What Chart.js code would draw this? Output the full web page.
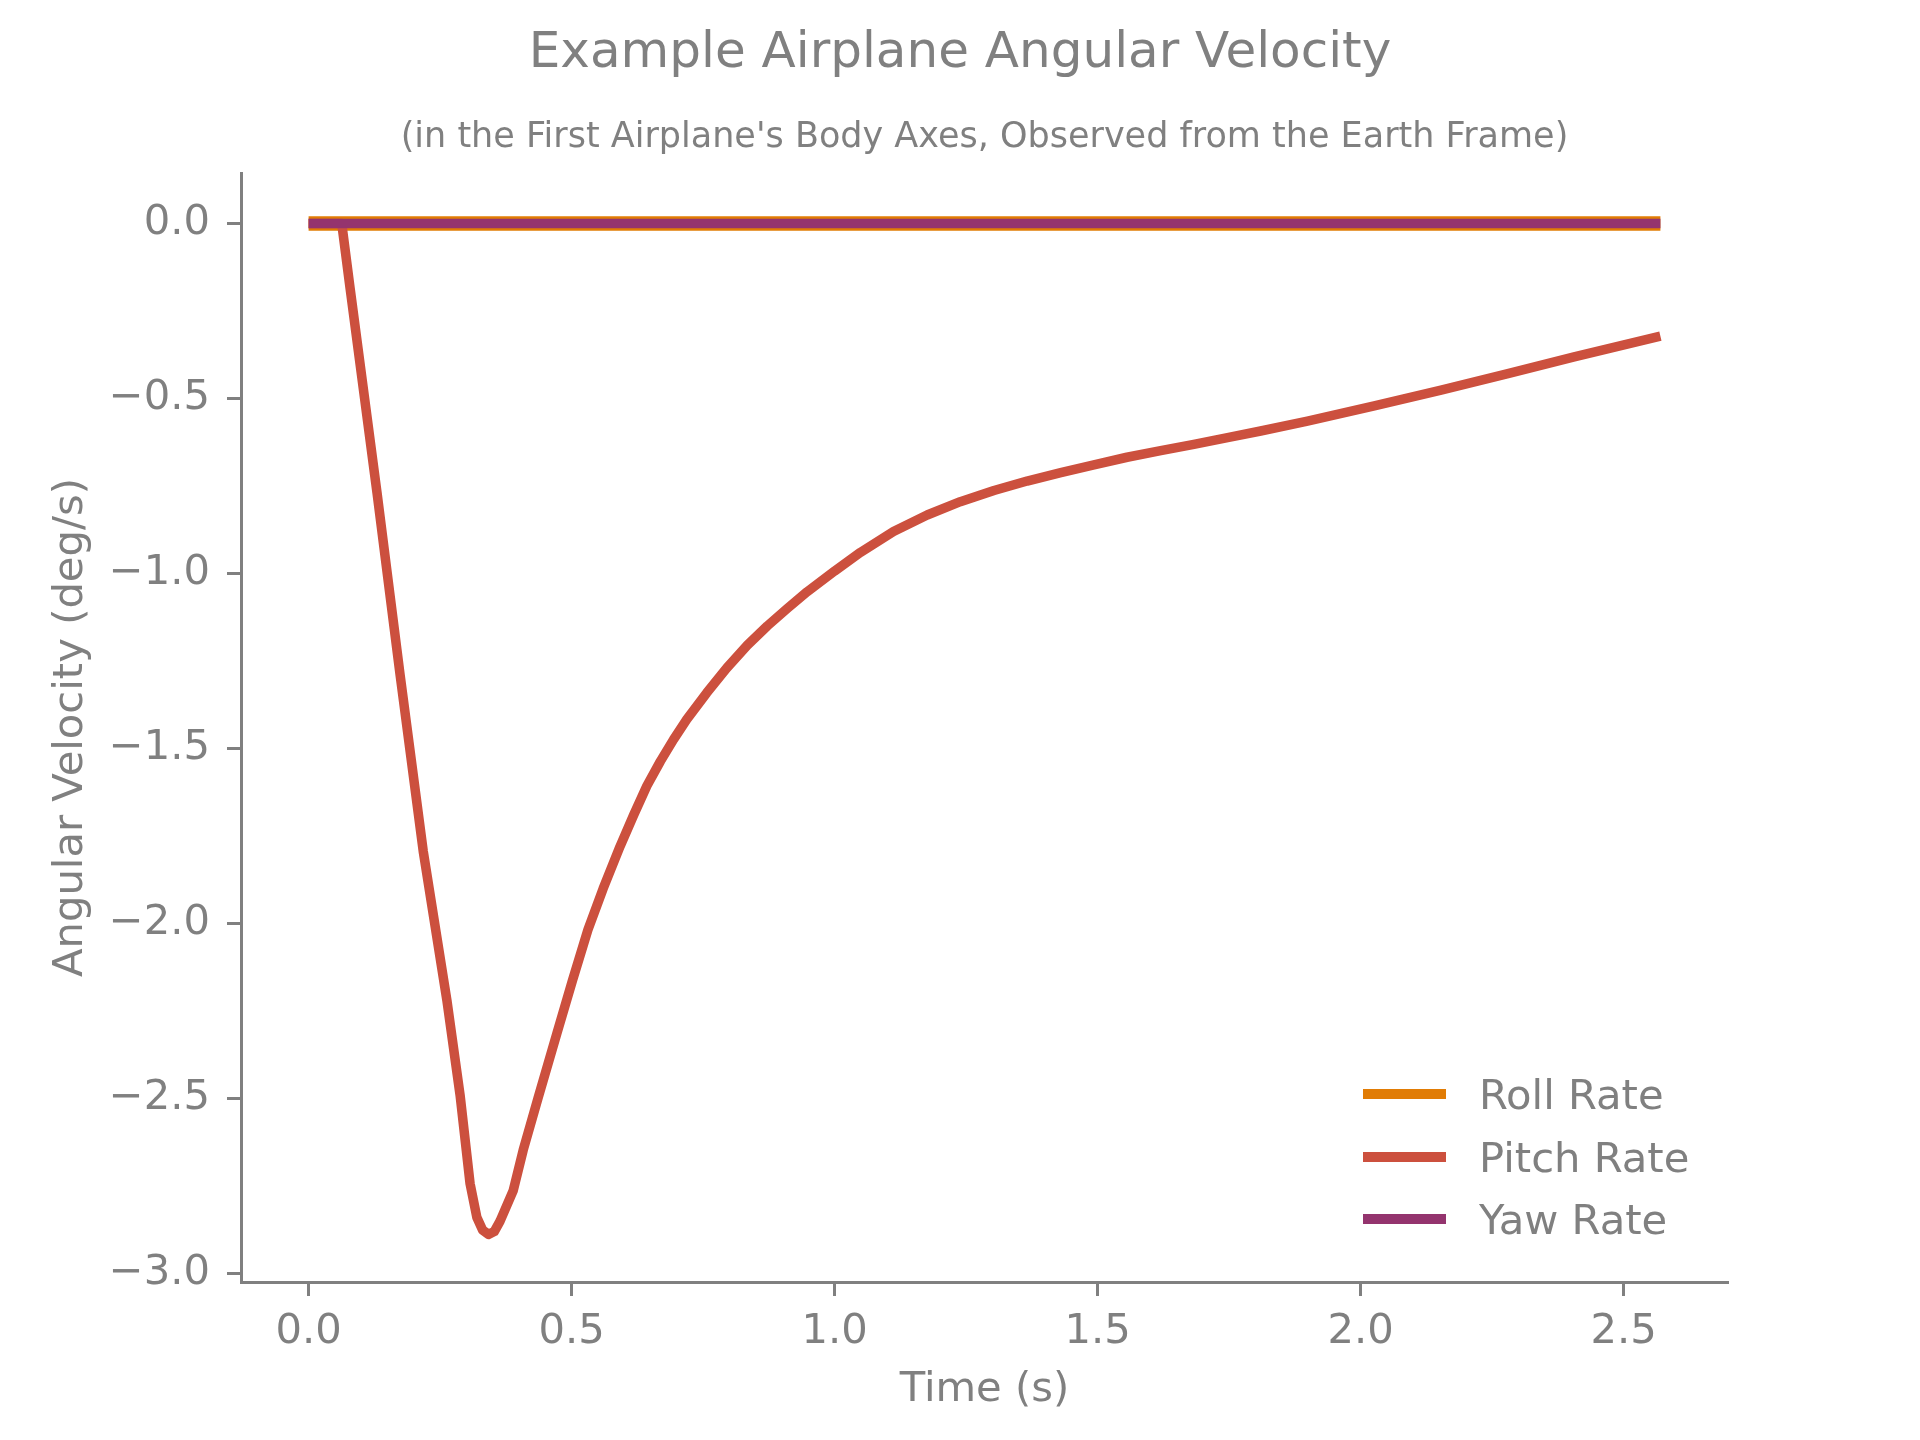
<!DOCTYPE html>
<html lang="en">
<head>
    <meta charset="UTF-8">
    <title>Example Airplane Angular Velocity</title>
    <script src="https://cdn.jsdelivr.net/npm/chart.js"></script>
    <style>
        body {
            margin: 0;
            background: #ffffff;
        }
        .chart-container {
            width: 1920px;
            height: 1440px;
        }
    </style>
</head>
<body>
    <div class="chart-container">
        <canvas id="rateChart" width="1920" height="1440"></canvas>
    </div>

    <script>
        // Time samples (s) and the three body rates (deg/s)
        const timeS = [0.000, 0.020, 0.040, 0.063, 0.079, 0.130, 0.174, 0.218, 0.263, 0.288,
                       0.307, 0.320, 0.331, 0.342, 0.353, 0.364, 0.389, 0.408, 0.436, 0.472,
                       0.502, 0.531, 0.560, 0.592, 0.618, 0.643, 0.669, 0.694, 0.719, 0.757,
                       0.795, 0.834, 0.872, 0.910, 0.948, 1.000, 1.049, 1.112, 1.176, 1.239,
                       1.303, 1.366, 1.430, 1.493, 1.556, 1.620, 1.683, 1.747, 1.810, 1.899,
                       2.026, 2.153, 2.280, 2.406, 2.570];
        const rollRate = [0, 0, 0, 0, 0, 0, 0, 0, 0, 0,
                          0, 0, 0, 0, 0, 0, 0, 0, 0, 0,
                          0, 0, 0, 0, 0, 0, 0, 0, 0, 0,
                          0, 0, 0, 0, 0, 0, 0, 0, 0, 0,
                          0, 0, 0, 0, 0, 0, 0, 0, 0, 0,
                          0, 0, 0, 0, 0];
        const pitchRate = [0, 0, 0, 0, -0.186, -0.768, -1.290, -1.794, -2.220, -2.490,
                           -2.743, -2.840, -2.876, -2.888, -2.880, -2.850, -2.763, -2.647, -2.500, -2.314,
                           -2.161, -2.018, -1.900, -1.780, -1.690, -1.607, -1.536, -1.474, -1.417, -1.341,
                           -1.270, -1.205, -1.150, -1.100, -1.052, -0.993, -0.940, -0.880, -0.833, -0.795,
                           -0.763, -0.736, -0.712, -0.690, -0.668, -0.649, -0.631, -0.612, -0.593, -0.565,
                           -0.521, -0.476, -0.429, -0.381, -0.322];
        const yawRate = [0, 0, 0, 0, 0, 0, 0, 0, 0, 0,
                         0, 0, 0, 0, 0, 0, 0, 0, 0, 0,
                         0, 0, 0, 0, 0, 0, 0, 0, 0, 0,
                         0, 0, 0, 0, 0, 0, 0, 0, 0, 0,
                         0, 0, 0, 0, 0, 0, 0, 0, 0, 0,
                         0, 0, 0, 0, 0];

        const seriesNames = ['Roll Rate', 'Pitch Rate', 'Yaw Rate'];
        const seriesColors = ['#E17C05', '#CC503E', '#94346E'];
        const xTicks = [0.0, 0.5, 1.0, 1.5, 2.0, 2.5];
        const yTicks = [-3.0, -2.5, -2.0, -1.5, -1.0, -0.5, 0.0];

        const mainTitle = 'Example Airplane Angular Velocity';
        const subTitle = "(in the First Airplane's Body Axes, Observed from the Earth Frame)";

        const grey = '#808080';
        const fontFamily = '"DejaVu Sans", sans-serif';

        function toPoints(values) {
            return timeS.map((t, i) => ({ x: t, y: values[i] }));
        }

        function fmt(v) {
            return (v < 0 ? '\u2212' : '') + Math.abs(v).toFixed(1);
        }

        // titles and legend drawn in matplotlib-like positions
        const figureText = {
            id: 'figureText',
            afterDraw(chart) {
                const { ctx, chartArea } = chart;
                ctx.save();
                ctx.fillStyle = grey;
                ctx.textAlign = 'center';
                ctx.textBaseline = 'alphabetic';
                ctx.font = '50px ' + fontFamily;
                ctx.fillText(mainTitle, chart.width / 2, 67);
                ctx.font = '35px ' + fontFamily;
                ctx.fillText(subTitle, (chartArea.left + chartArea.right) / 2, 147);

                // legend
                const rows = [1094, 1157, 1219];
                ctx.textAlign = 'left';
                ctx.font = '41.7px ' + fontFamily;
                chart.data.datasets.forEach((ds, i) => {
                    ctx.fillStyle = ds.borderColor;
                    ctx.fillRect(1363, rows[i] - 5, 83, 10);
                    ctx.fillStyle = grey;
                    ctx.fillText(ds.label, 1479, rows[i] + 15);
                });
                ctx.restore();
            }
        };

        const ctx = document.getElementById('rateChart').getContext('2d');
        new Chart(ctx, {
            type: 'line',
            data: {
                datasets: [
                    { label: seriesNames[0], data: toPoints(rollRate), borderColor: seriesColors[0], borderWidth: 14.5, order: 3 },
                    { label: seriesNames[1], data: toPoints(pitchRate), borderColor: seriesColors[1], borderWidth: 9.5, order: 2 },
                    { label: seriesNames[2], data: toPoints(yawRate), borderColor: seriesColors[2], borderWidth: 9.5, order: 1 }
                ]
            },
            options: {
                responsive: false,
                animation: false,
                devicePixelRatio: 1,
                layout: { padding: { top: 173, right: 192, left: 0, bottom: 0 } },
                elements: {
                    point: { radius: 0 },
                    line: { tension: 0, borderCapStyle: 'butt', borderJoinStyle: 'round', fill: false }
                },
                plugins: {
                    legend: { display: false },
                    title: { display: false },
                    tooltip: { enabled: false }
                },
                scales: {
                    x: {
                        type: 'linear',
                        min: -0.1285,
                        max: 2.6985,
                        afterFit: s => { s.height = 158; },
                        afterBuildTicks: s => { s.ticks = xTicks.map(v => ({ value: v })); },
                        grid: { drawOnChartArea: false, tickLength: 14, tickWidth: 3, tickColor: grey },
                        border: { color: grey, width: 3 },
                        ticks: {
                            color: grey,
                            font: { family: fontFamily, size: 41.7 },
                            padding: 11,
                            autoSkip: false,
                            maxRotation: 0,
                            callback: v => fmt(v)
                        },
                        title: {
                            display: true,
                            text: 'Time (s)',
                            color: grey,
                            font: { family: fontFamily, size: 41.7 },
                            padding: { top: 0, bottom: 25 }
                        }
                    },
                    y: {
                        type: 'linear',
                        min: -3.024,
                        max: 0.144,
                        afterFit: s => { s.width = 241; },
                        afterBuildTicks: s => { s.ticks = yTicks.map(v => ({ value: v })); },
                        grid: { drawOnChartArea: false, tickLength: 14, tickWidth: 3, tickColor: grey },
                        border: { color: grey, width: 3 },
                        ticks: {
                            color: grey,
                            font: { family: fontFamily, size: 41.7 },
                            padding: 17,
                            autoSkip: false,
                            callback: v => fmt(v)
                        },
                        title: {
                            display: true,
                            text: 'Angular Velocity (deg/s)',
                            color: grey,
                            font: { family: fontFamily, size: 41.7 },
                            padding: { top: 46, bottom: 0 }
                        }
                    }
                }
            },
            plugins: [figureText]
        });
    </script>
</body>
</html>
